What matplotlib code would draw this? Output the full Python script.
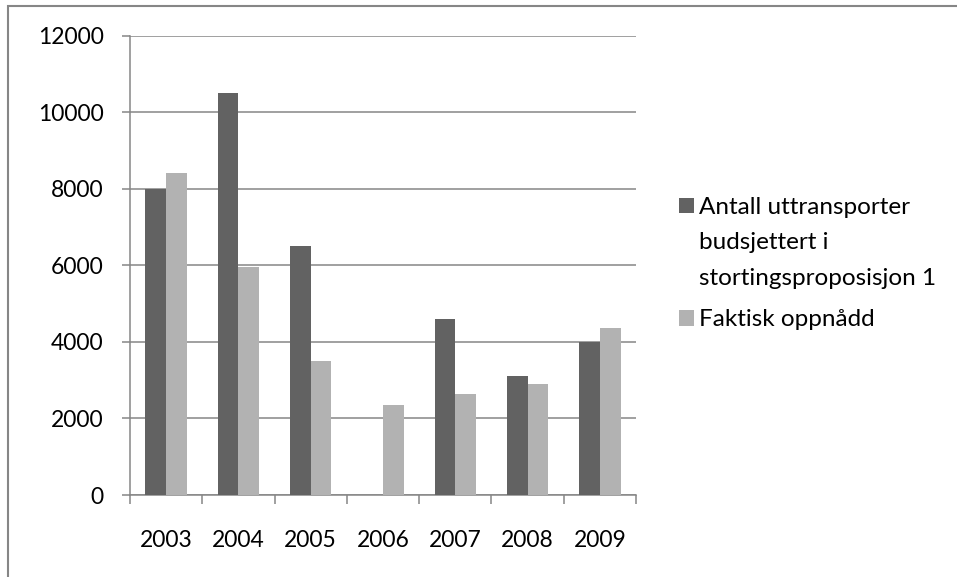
import matplotlib
matplotlib.use('Agg')
import numpy as np
from matplotlib import pyplot
from matplotlib.patches import Rectangle
from matplotlib.ticker import FixedLocator

years = ['2003', '2004', '2005', '2006', '2007', '2008', '2009']
budsjettert = [8000, 10500, 6500, 0, 4600, 3100, 4000]
oppnaadd = [8400, 5950, 3500, 2350, 2630, 2890, 4360]

label_budsjett = 'Antall uttransporter\nbudsjettert i\nstortingsproposisjon 1'
label_faktisk = 'Faktisk oppnådd'

pyplot.rcParams['font.family'] = ['Lato', 'DejaVu Sans']

fig = pyplot.figure(figsize=(9.57, 5.77), dpi=100)
ax = fig.add_axes([130 / 957, 82 / 577, 506 / 957, 459.3 / 577])

grid_col = '#868686'
x = np.arange(len(years))
w = 1 / 3.5
ax.bar(x - w / 2, budsjettert, w, color='#626262', label=label_budsjett, zorder=3)
ax.bar(x + w / 2, oppnaadd, w, color='#b2b2b2', label=label_faktisk, zorder=3)

ax.set_xlim(-0.5, len(years) - 0.5)
ax.set_ylim(0, 12000)
ax.set_yticks(np.arange(0, 12001, 2000))
ax.yaxis.grid(True, color=grid_col, linewidth=1.1, zorder=0)
ax.set_axisbelow(True)

ax.set_xticks(x)
ax.set_xticklabels(years)
ax.xaxis.set_minor_locator(FixedLocator(np.arange(-0.5, len(years), 1)))
ax.tick_params(axis='x', which='major', length=0, pad=25, labelsize=16.5)
ax.tick_params(axis='x', which='minor', length=6.5, width=1.1, color=grid_col)
ax.tick_params(axis='y', length=6, width=1.1, color=grid_col, pad=13, labelsize=16.5)

for side in ['top', 'right']:
    ax.spines[side].set_visible(False)
for side in ['left', 'bottom']:
    ax.spines[side].set_color(grid_col)
    ax.spines[side].set_linewidth(1.1)

# outer chart border, only top and left edges fall inside the image
fig.patches.append(Rectangle((8 / 957, -0.1), 1.2, (577 - 6) / 577 + 0.1,
                             transform=fig.transFigure, fill=False,
                             edgecolor=grid_col, linewidth=1.5))

leg = ax.legend(loc='upper left', bbox_to_anchor=(679 / 957, 1 - 197 / 577),
                bbox_transform=fig.transFigure, frameon=False, fontsize=17.5,
                handlelength=0.62, handleheight=0.62, handletextpad=0.22,
                labelspacing=0.84, borderaxespad=0, borderpad=0)
for t in leg.get_texts():
    t.set_linespacing(1.85)

# put the handle of the multi-line entry next to its first line
fig.canvas.draw()
texts = leg.get_texts()
handles = leg.legend_handles
tb0 = texts[0].get_window_extent()
hb0 = handles[0].get_window_extent()
tb1 = texts[1].get_window_extent()
hb1 = handles[1].get_window_extent()
shift_px = (tb0.y1 - (tb1.y1 - hb1.y1)) - hb0.y1
handles[0].set_y(handles[0].get_y() + shift_px * 72 / fig.dpi)

fig.savefig('out.png', dpi=100)
